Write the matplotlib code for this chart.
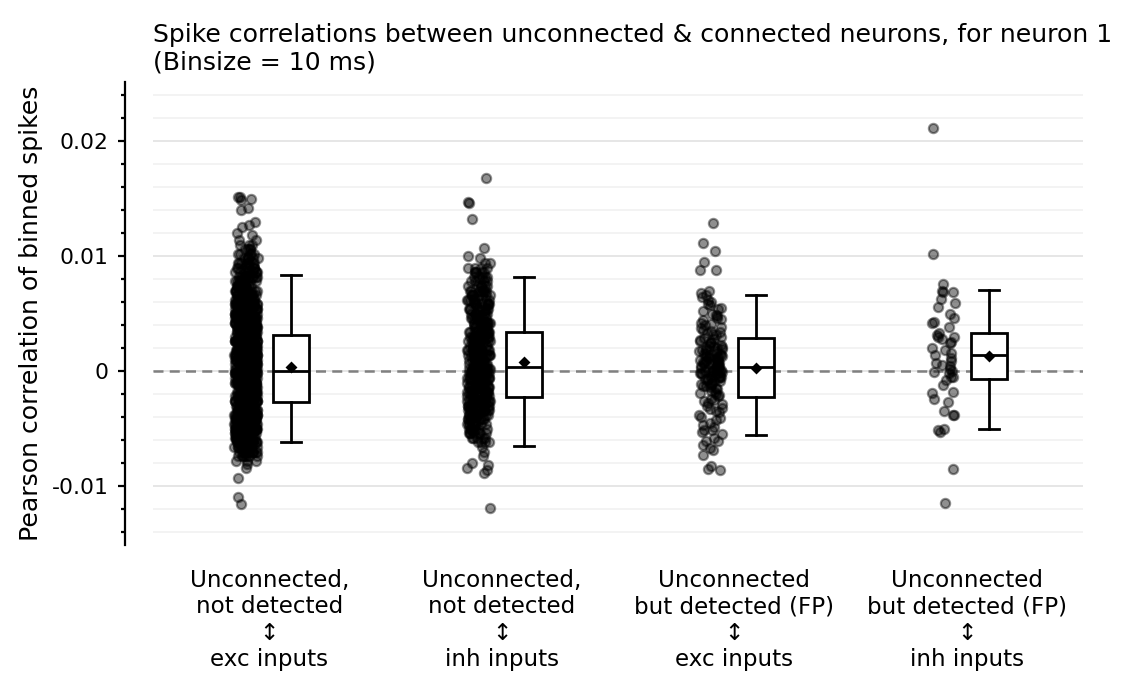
import numpy as np
import matplotlib
matplotlib.use("Agg")
import matplotlib.pyplot as plt
from matplotlib.ticker import MultipleLocator, FuncFormatter

# categories
labels = [
    "Unconnected,\nnot detected\n\u2195\nexc inputs",
    "Unconnected,\nnot detected\n\u2195\ninh inputs",
    "Unconnected\nbut detected (FP)\n\u2195\nexc inputs",
    "Unconnected\nbut detected (FP)\n\u2195\ninh inputs",
]

# values in units of 1e-4
# dense groups: histogram of the core (level, count) + single outliers
g1_levels = list(range(-78, 115, 4))
g1_counts = [3, 7, 11, 14, 17, 20, 22, 25, 25, 25, 25, 25, 25, 28, 28, 28, 28,
             30, 30, 30, 30, 28, 28, 28, 28, 28, 25, 25, 25, 25, 25, 25, 22,
             20, 20, 17, 17, 14, 14, 11, 11, 9, 8, 8, 6, 5, 4, 3, 2]
g1_extra = [151, 151, 150, 149, 142, 140, 130, 127, 125, 120, 118,
            -81, -84, -93, -110, -116]

g2_levels = list(range(-62, 95, 4))
g2_counts = [4, 5, 7, 8, 9, 10, 10, 11, 12, 12, 13, 13, 13, 13, 14, 14, 14, 14,
             13, 13, 13, 13, 12, 12, 12, 10, 10, 10, 9, 9, 9, 8, 8, 8, 6, 5, 5,
             5, 4, 2]
g2_extra = [168, 147, 146, 132, 107, 100, 98, -66, -70, -74, -80, -82, -84,
            -86, -89, -119]

g3_vals = [129, 111, 104, 95, 88, 88, 70, 68, 66, 64, 62, 60, 58, 57, 55, 54,
           52, 50, 49, 48, 46, 45, 44, 42, 41, 40, 38, 37, 36, 35, 34, 33, 32,
           31, 30, 29, 28, 27, 26, 25, 24, 24, 23, 22, 21, 20, 20, 19, 18, 17,
           16, 16, 15, 14, 13, 12, 12, 11, 10, 10, 9, 8, 8, 7, 6, 6, 5, 4, 4,
           3, 2, 2, 1, 0, 0, -1, -2, -2, -3, -4, -4, -5, -6, -7, -8, -9, -10,
           -11, -12, -13, -14, -15, -16, -17, -18, -19, -20, -21, -22, -24,
           -25, -26, -28, -29, -30, -32, -33, -35, -36, -38, -40, -41, -43,
           -45, -47, -49, -51, -51, -53, -55, -58, -61, -61, -64, -67, -69,
           -73, -83, -85, -86,
           22, 18, 15, 13, 11, 9, 7, 5, 3, 1, 0, -1, -3, -5, -7, -9, -11,
           -13, 17, 14, 8, 4, -2, -6]

g4_vals = [211, 102, 76, 70, 69, 69, 63, 59, 56, 50, 46, 43, 42, 38, 33, 31,
           30, 30, 28, 25, 24, 20, 18, 16, 14, 11, 9, 7, 5, 4, 2, 0, -1, -2,
           -5, -5, -8, -12, -18, -19, -24, -27, -35, -38, -38, -50, -51, -53,
           -85, -115]

# box statistics
box_whishi = [0.00835, 0.0082, 0.00664, 0.00701]
box_q3 = [0.00313, 0.00342, 0.0029, 0.00328]
box_med = [0.0, 0.00032, 0.00038, 0.00139]
box_q1 = [-0.0027, -0.00229, -0.00223, -0.0007]
box_whislo = [-0.00617, -0.00652, -0.0056, -0.00507]
box_mean = [0.00035, 0.00081, 0.00029, 0.00133]

groups = [
    np.concatenate([np.repeat(g1_levels, g1_counts), g1_extra]) * 1e-4,
    np.concatenate([np.repeat(g2_levels, g2_counts), g2_extra]) * 1e-4,
    np.array(g3_vals) * 1e-4,
    np.array(g4_vals) * 1e-4,
]

fs = 9.05
plt.rcParams["font.family"] = "DejaVu Sans"
plt.rcParams["font.size"] = fs

fig = plt.figure(figsize=(5.645, 3.455), dpi=200)
ax = fig.add_axes([0.1355, 0.2113, 0.8237, 0.670])

# grid
ax.yaxis.set_major_locator(MultipleLocator(0.01))
ax.yaxis.set_minor_locator(MultipleLocator(0.002))
ax.grid(True, which="major", axis="y", color="#e2e2e2", lw=0.6, zorder=0)
ax.grid(True, which="minor", axis="y", color="#f1f1f1", lw=0.6, zorder=0)
ax.set_axisbelow(True)

ax.axhline(0, color="#808080", lw=0.9, ls=(0, (4, 2.5)), zorder=1)

# strips (deterministic hash spread for jitter)
for i, vals in enumerate(groups):
    idx = np.arange(len(vals)) + 1.0 + 37 * i
    frac = (np.sin(idx * 12.9898) * 43758.5453) % 1.0
    x = i - 0.10 + (frac - 0.5) * 0.10
    ax.scatter(x, vals, s=11, c="k", edgecolors="k", linewidths=0.8,
               alpha=0.44, zorder=2)

# boxes
stats = []
for i in range(4):
    stats.append(dict(med=box_med[i], q1=box_q1[i], q3=box_q3[i],
                      whislo=box_whislo[i], whishi=box_whishi[i],
                      mean=box_mean[i], fliers=[]))
ax.bxp(stats, positions=[i + 0.095 for i in range(4)], widths=0.155,
       capwidths=0.085, patch_artist=True, showmeans=True,
       boxprops=dict(facecolor="white", edgecolor="k", lw=1.0),
       medianprops=dict(color="k", lw=1.0),
       whiskerprops=dict(color="k", lw=1.0),
       capprops=dict(color="k", lw=1.0),
       meanprops=dict(marker="D", markerfacecolor="k", markeredgecolor="k",
                      markersize=2.2),
       zorder=3)

ax.set_xlim(-0.5, 3.5)
ax.set_ylim(-0.01513, 0.02513)
ax.set_xticks(range(4))
ax.set_xticklabels(labels, fontsize=8.3)
ax.tick_params(axis="x", length=0, pad=8.5)
ax.tick_params(axis="y", which="major", length=2.6, width=0.8, labelsize=7.9)
ax.tick_params(axis="y", which="minor", length=1.6, width=0.8)
ax.yaxis.set_major_formatter(FuncFormatter(lambda v, p: "0" if abs(v) < 1e-9 else "%g" % v))

for s in ["top", "right", "bottom"]:
    ax.spines[s].set_visible(False)
ax.spines["left"].set_position(("outward", 10))
ax.spines["left"].set_linewidth(0.8)

ax.set_ylabel("Pearson correlation of binned spikes", fontsize=fs, labelpad=3)
ax.set_title("Spike correlations between unconnected & connected neurons, for neuron 1\n(Binsize = 10 ms)",
             loc="left", fontsize=fs, pad=4.5)

fig.savefig("out.png", dpi=200)
